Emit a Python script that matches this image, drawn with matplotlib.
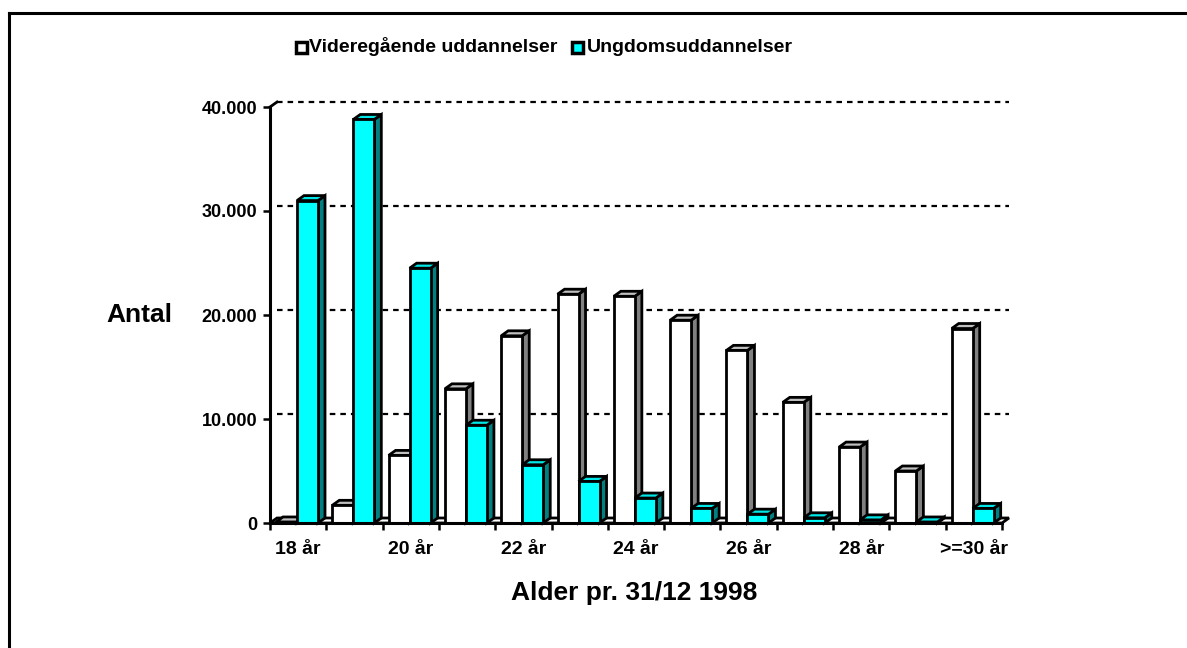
import matplotlib
matplotlib.use("Agg")
import matplotlib.pyplot as plt
from matplotlib.patches import Polygon, Rectangle
from matplotlib.lines import Line2D

plt.rcParams["font.family"] = ["Liberation Sans", "DejaVu Sans"]
plt.rcParams["font.weight"] = "bold"
plt.rcParams["lines.scale_dashes"] = False

# Data
categories = ["18 år", "19 år", "20 år", "21 år", "22 år", "23 år", "24 år",
              "25 år", "26 år", "27 år", "28 år", "29 år", ">=30 år"]
videregaaende = [100, 1700, 6500, 12900, 18000, 22000, 21800,
                 19500, 16600, 11600, 7300, 5000, 18700]
ungdom = [31000, 38800, 24500, 9400, 5600, 4000, 2400,
          1400, 850, 500, 300, 100, 1400]
series_names = ["Videregående uddannelser", "Ungdomsuddannelser"]
y_ticks = [0, 10000, 20000, 30000, 40000]
y_ticklabels = ["0", "10.000", "20.000", "30.000", "40.000"]

W, H = 1187, 648
fig = plt.figure(figsize=(W / 100, H / 100), dpi=100)

# axes box in pixels: front axis x 270..1002, y 523..107
px_left, px_right, px_bottom, px_top = 270, 1002, 523, 107
ax = fig.add_axes([px_left / W, 1 - px_bottom / H,
                   (px_right - px_left) / W, (px_bottom - px_top) / H])
n = len(categories)
ax.set_xlim(0, n)
ax.set_ylim(0, 40000)

# 3D depth offsets (data units)
px_per_cat = (px_right - px_left) / n
px_per_val = (px_bottom - px_top) / 40000
dx = 7 / px_per_cat
dy = 5 / px_per_val

offset = 6 / px_per_cat
bw = 21 / px_per_cat
lw = 2.0

faces = {
    0: ("white", "#c0c0c0", "#808080"),
    1: ("#00ffff", "#00e6e6", "#008080"),
}

# back wall gridlines
for t in y_ticks[1:]:
    ax.plot([dx, n + dx], [t + dy, t + dy], color="black", lw=1.6,
            dashes=(4, 3.6), clip_on=False, zorder=1)

# floor
floor = Polygon([(0, 0), (n, 0), (n + dx, dy), (dx, dy)], closed=True,
                facecolor="white", edgecolor="black", lw=lw, clip_on=False,
                zorder=1.5)
ax.add_patch(floor)
# wall edge diagonal at the top of the value axis
ax.plot([0, dx], [40000, 40000 + dy], color="black", lw=lw, clip_on=False, zorder=1.5)

z = 2.0
for i in range(n):
    for s, vals in enumerate([videregaaende, ungdom]):
        v = vals[i]
        x0 = i + offset + s * bw
        x1 = x0 + bw
        front, top, side = faces[s]
        ax.add_patch(Polygon([(x1, 0), (x1 + dx, dy), (x1 + dx, v + dy), (x1, v)],
                             closed=True, facecolor=side, edgecolor="black",
                             lw=lw, joinstyle="miter", clip_on=False, zorder=z))
        ax.add_patch(Polygon([(x0, v), (x1, v), (x1 + dx, v + dy), (x0 + dx, v + dy)],
                             closed=True, facecolor=top, edgecolor="black",
                             lw=lw, joinstyle="miter", clip_on=False, zorder=z + 0.001))
        ax.bar(x0, v, width=bw, align="edge", color=front, edgecolor="black",
               linewidth=lw, clip_on=False, zorder=z + 0.002)
        z += 0.01

# axes styling
for side in ["top", "right"]:
    ax.spines[side].set_visible(False)
for side in ["left", "bottom"]:
    ax.spines[side].set_linewidth(2.2)
    ax.spines[side].set_zorder(10)

ax.set_yticks(y_ticks)
ax.set_yticklabels(y_ticklabels, fontsize=13, fontweight="bold")
ax.tick_params(axis="y", direction="out", length=5, width=1.8, pad=4)

ax.set_xticks(range(n + 1))
ax.set_xticklabels([])
ax.tick_params(axis="x", which="major", direction="out", length=5, width=1.8)
ax.set_xticks([i + 0.5 for i in range(0, n, 2)], minor=True)
ax.set_xticklabels(categories[::2], minor=True, fontsize=14, fontweight="bold")
ax.tick_params(axis="x", which="minor", length=0, pad=13)

fig.text(139 / W, 1 - 315 / H, "Antal", fontsize=19, fontweight="bold",
         ha="center", va="center")
fig.text(634 / W, 1 - 593 / H, "Alder pr. 31/12 1998", fontsize=19,
         fontweight="bold", ha="center", va="center")

# legend
legend_items = [(296, 309, "white"), (572, 587, "#00ffff")]
for (bx, tx, col), name in zip(legend_items, series_names):
    fig.patches.append(Rectangle((bx / W, 1 - 53 / H), 11 / W, 11 / H,
                                 facecolor=col, edgecolor="black", lw=2.5,
                                 transform=fig.transFigure, figure=fig))
    fig.text(tx / W, 1 - 47 / H, name, fontsize=14, fontweight="bold",
             ha="left", va="center")

# outer border (only top and left visible)
fig.add_artist(Line2D([9 / W, 9 / W], [0, 1 - 13 / H], color="black", lw=2.2,
                      transform=fig.transFigure))
fig.add_artist(Line2D([9 / W, 1], [1 - 13 / H, 1 - 13 / H], color="black", lw=2.2,
                      transform=fig.transFigure))

fig.savefig("out.png", dpi=100)
